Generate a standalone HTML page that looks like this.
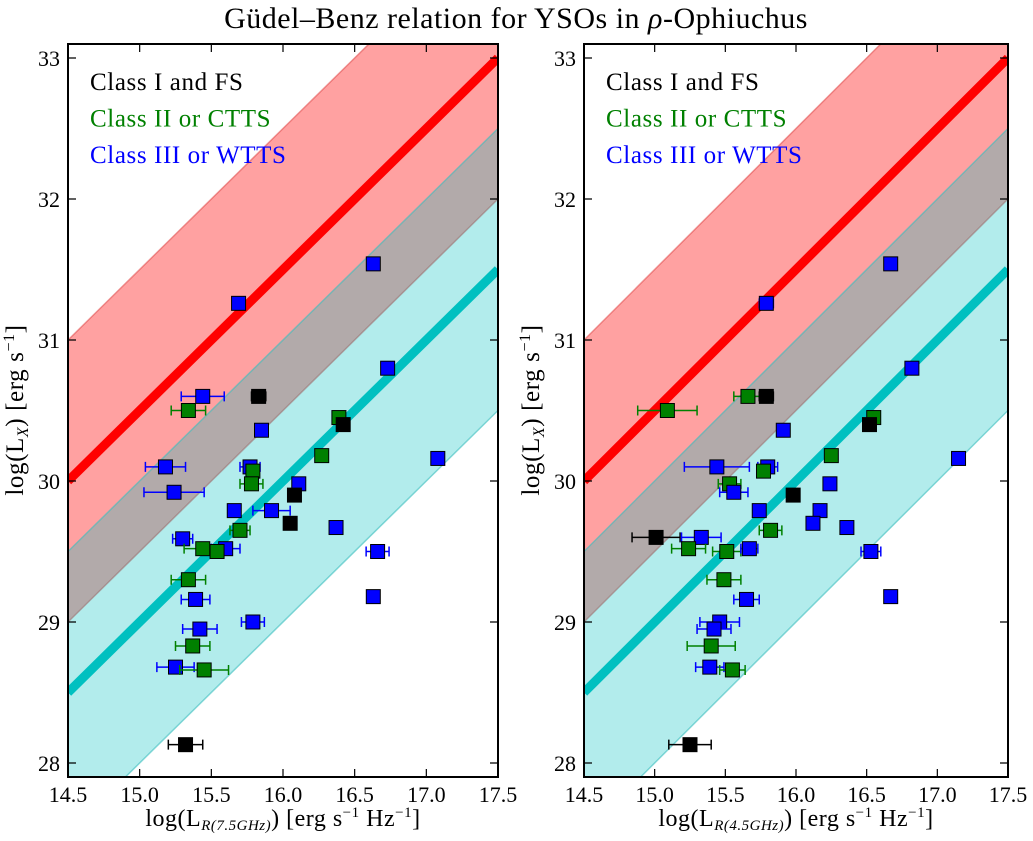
<!DOCTYPE html>
<html><head><meta charset="utf-8"><style>
html,body{margin:0;padding:0;background:#fff;overflow:hidden;width:1033px;height:841px;}
svg{display:block;font-family:"Liberation Serif",serif;}
</style></head><body>
<svg id="fig" width="1033" height="841" viewBox="0 0 1033 841" xmlns="http://www.w3.org/2000/svg">
<text x="516" y="28" text-anchor="middle" font-size="30" letter-spacing="0.5">Güdel–Benz relation for YSOs in <tspan font-style="italic">ρ</tspan>-Ophiuchus</text>
<g id="p1"></g>
<g id="p2"></g>
</svg>
<script>
// Left panel data (7.5 GHz)
const lClass = ["b","b","b","b","k","g","b","g","k","g","b","b","b","g","g","b","b","k","b","b","k","b","g","b","g","b","g","b","g","b","b","b","b","g","b","g","k"];
const lX = [16.63,15.69,16.73,15.44,15.83,15.34,15.85,16.39,16.42,16.27,17.08,15.18,15.77,15.79,15.78,15.24,16.11,16.08,15.66,15.92,16.05,16.37,15.70,15.30,15.44,15.60,15.54,16.66,15.34,15.39,16.63,15.79,15.42,15.37,15.25,15.45,15.32];
const lY = [31.54,31.26,30.80,30.60,30.60,30.50,30.36,30.45,30.40,30.18,30.16,30.10,30.10,30.07,29.98,29.92,29.98,29.90,29.79,29.79,29.70,29.67,29.65,29.59,29.52,29.52,29.50,29.50,29.30,29.16,29.18,29.00,28.95,28.83,28.68,28.66,28.13];
const lErr = [0,0.03,0,0.15,0.05,0.12,0,0,0,0,0,0.14,0.07,0,0.08,0.21,0,0,0,0.13,0,0,0.07,0.07,0.13,0.1,0,0.08,0.12,0.1,0,0.08,0.12,0.12,0.13,0.17,0.12];
// Right panel data (4.5 GHz)
const rClass = ["b","b","b","g","k","g","b","g","k","g","b","b","b","g","g","b","b","k","b","b","b","b","g","k","b","g","g","b","b","g","b","b","b","b","g","b","g","k"];
const rX = [16.67,15.79,16.82,15.66,15.79,15.09,15.91,16.55,16.52,16.25,17.15,15.44,15.80,15.77,15.53,15.56,16.24,15.98,15.74,16.17,16.12,16.36,15.82,15.01,15.33,15.24,15.51,15.67,16.53,15.49,15.65,16.67,15.46,15.42,15.40,15.39,15.55,15.25];
const rY = [31.54,31.26,30.80,30.60,30.60,30.50,30.36,30.45,30.40,30.18,30.16,30.10,30.10,30.07,29.98,29.92,29.98,29.90,29.79,29.79,29.70,29.67,29.65,29.60,29.60,29.52,29.50,29.52,29.50,29.30,29.16,29.18,29.00,28.95,28.83,28.68,28.66,28.13];
const rErr = [0,0.05,0,0.1,0.05,0.21,0,0,0,0,0,0.23,0.07,0,0.08,0.1,0,0,0,0,0,0,0.08,0.17,0.14,0.12,0.1,0.06,0.07,0.12,0.09,0,0.14,0.12,0.17,0.1,0.09,0.15];
const xTicks = [14.5,15.0,15.5,16.0,16.5,17.0,17.5];
const yTicks = [28,29,30,31,32,33];
const redOffset = 15.5, cyanOffset = 14.0, bandHalf = 1.0;

const NS = "http://www.w3.org/2000/svg";
const colors = {k:"#000000", g:"#008000", b:"#0000ff"};
function mk(parent, tag, attrs){const e=document.createElementNS(NS,tag);for(const k in attrs)e.setAttribute(k,attrs[k]);parent.appendChild(e);return e;}

function panel(gid, left, right, xs, ys, errs, cls, xlabelSub, clipId){
  const g=document.getElementById(gid);
  const top=44, bottom=777, xmin=14.5, xmax=17.5, ymin=27.9, ymax=33.1;
  const sx=v=>left+(v-xmin)/(xmax-xmin)*(right-left);
  const sy=v=>763-(v-28)*141;
  const cy_=v=>sy(Math.max(ymin-0.1,Math.min(ymax+0.1,v)));
  const defs=mk(g,"defs",{});
  const cp=mk(defs,"clipPath",{id:clipId});
  mk(cp,"rect",{x:left,y:top,width:right-left,height:bottom-top});
  const cg=mk(g,"g",{"clip-path":"url(#"+clipId+")"});
  // x positions where a line y=x+off crosses clamped y-range
  function seg(off){
    const a=Math.max(xmin,ymin-0.1-off), b=Math.min(xmax,ymax+0.1-off);
    return [a,b];
  }
  function band(off,fill,stroke,name){
    const [a1,b1]=seg(off+bandHalf), [a2,b2]=seg(off-bandHalf);
    const pts=[[xmin,cy_(xmin+off+bandHalf)],[a1,sy(a1+off+bandHalf)],[b1,sy(b1+off+bandHalf)],[xmax,cy_(xmax+off+bandHalf)],
               [xmax,cy_(xmax+off-bandHalf)],[b2,sy(b2+off-bandHalf)],[a2,sy(a2+off-bandHalf)],[xmin,cy_(xmin+off-bandHalf)]];
    const p=mk(cg,"polygon",{points:pts.map(q=>sx(q[0])+","+q[1]).join(" "),fill:fill,stroke:stroke,"stroke-width":1.5});
    
    
  }
  band(redOffset,"rgba(255,0,0,0.37)","rgba(220,60,60,0.5)","red-band");
  band(cyanOffset,"rgba(0,191,191,0.3)","rgba(60,190,190,0.6)","cyan-band");
  function line(off,col,name){
    const [a,b]=seg(off);
    const l=mk(cg,"line",{x1:sx(a),y1:sy(a+off),x2:sx(b),y2:sy(b+off),stroke:col,"stroke-width":9});
    
    
  }
  line(redOffset,"#ff0000","red-relation-line");
  line(cyanOffset,"#00c0c0","cyan-relation-line");
  for(let i=0;i<xs.length;i++){
    const cx=sx(xs[i]), cy=sy(ys[i]), c=colors[cls[i]];
    if(errs[i]>0){
      const x1=sx(xs[i]-errs[i]), x2=sx(xs[i]+errs[i]);
      const eb=mk(cg,"path",{d:`M${x1},${cy}H${x2}M${x1},${cy-5}V${cy+5}M${x2},${cy-5}V${cy+5}`,stroke:c,"stroke-width":1.5,fill:"none"});
      
      
    }
    const r=mk(cg,"rect",{x:cx-7,y:cy-7,width:14,height:14,fill:c,stroke:"#000","stroke-width":1});
    
    
  }
  const fr=mk(g,"rect",{x:left,y:top,width:right-left,height:bottom-top,fill:"none",stroke:"#000","stroke-width":2});
  
  
  xTicks.forEach(t=>{
    const x=sx(t);
    mk(g,"path",{d:`M${x},${bottom}v-8M${x},${top}v8`,stroke:"#000","stroke-width":1.2});
    const tl=mk(g,"text",{x:x,y:bottom+25,"text-anchor":"middle","font-size":22});
    tl.textContent=t.toFixed(1);
    
    
  });
  yTicks.forEach(t=>{
    const y=sy(t);
    mk(g,"path",{d:`M${left},${y}h8M${right},${y}h-8`,stroke:"#000","stroke-width":1.2});
    const tl=mk(g,"text",{x:left-8,y:y+8,"text-anchor":"end","font-size":22});
    tl.textContent=t;
    
    
  });
  const leg=[["Class I and FS","#000"],["Class II or CTTS","#008000"],["Class III or WTTS","#0000ff"]];
  leg.forEach((L,i)=>{
    const t=mk(g,"text",{x:left+22,y:90+i*36.5,"font-size":25,"letter-spacing":0.6,fill:L[1]});
    t.textContent=L[0];
    
    
  });
  const xl=mk(g,"text",{x:(left+right)/2,y:826,"text-anchor":"middle","font-size":24,"letter-spacing":0.5});
  xl.innerHTML=`log(L<tspan font-size="15" font-style="italic" dy="4">R(${xlabelSub}GHz)</tspan><tspan dy="-4">) [erg s</tspan><tspan font-size="15" dy="-9">−1</tspan><tspan dy="9"> Hz</tspan><tspan font-size="15" dy="-9">−1</tspan><tspan dy="9">]</tspan>`;
  
  
  const yl=mk(g,"text",{x:0,y:0,"text-anchor":"middle","font-size":25,"letter-spacing":0.6,transform:`translate(${left-45},410) rotate(-90)`});
  yl.innerHTML=`log(L<tspan font-size="16" font-style="italic" dy="5">X</tspan><tspan dy="-5">) [erg s</tspan><tspan font-size="16" dy="-9">−1</tspan><tspan dy="9">]</tspan>`;
  
  
}
panel("p1",68,498,lX,lY,lErr,lClass,"7.5","c1");
panel("p2",584,1008,rX,rY,rErr,rClass,"4.5","c2");
</script>
</body></html>
